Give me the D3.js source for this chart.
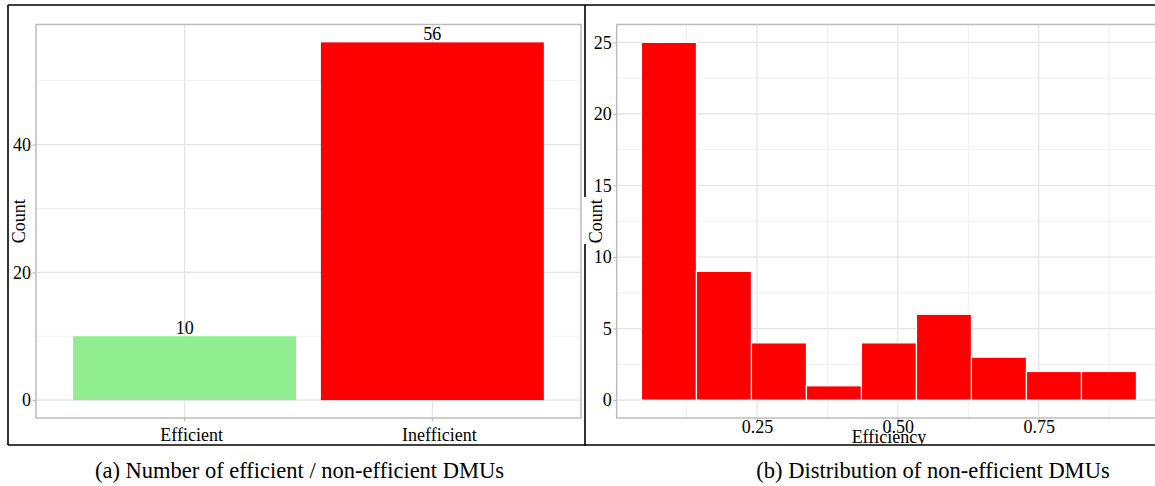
<!DOCTYPE html>
<html>
<head>
<meta charset="utf-8">
<script src="https://cdn.jsdelivr.net/npm/d3@7"></script>
<style>
  body { margin: 0; background: #fff; }
  text { font-family: "Liberation Serif", "Times New Roman", serif; fill: #000; }
</style>
</head>
<body>
<div id="my_dataviz"></div>
<script>

// ---- data ----
var dmuClasses = ["Efficient", "Inefficient"];
var dmuCounts = [10, 56];
var dmuColors = ["#90ee90", "#ff0000"];
var countTicks = [0, 20, 40];

var binEdges = [0.045, 0.1426, 0.2402, 0.3378, 0.4354, 0.533, 0.6306, 0.7282, 0.8258, 0.9234];
var binCounts = [25, 9, 4, 1, 4, 6, 3, 2, 2];
var histYTicks = [0, 5, 10, 15, 20, 25];
var histXTicks = [0.25, 0.50, 0.75];

var captions = ["(a) Number of efficient / non-efficient DMUs", "(b) Distribution of non-efficient DMUs"];

var W = 1155, H = 486;
var gridMajor = "#e4e4e4", gridMinor = "#f1f1f1", borderCol = "#bdbdbd";

var svg = d3.select("#my_dataviz")
  .append("svg")
    .attr("width", W)
    .attr("height", H);

// helper: one ggplot-ish light panel
function drawGrid(g, x, y, xMajor, xMinor, yMajor, yMinor) {
  var x0 = x.range()[0], x1 = x.range()[1] || x.range()[0];
  g.selectAll(".ymin").data(yMinor).enter().append("line")
    .attr("x1", x.range()[0]).attr("x2", x.range()[1])
    .attr("y1", d => y(d)).attr("y2", d => y(d))
    .style("stroke", gridMinor).style("stroke-width", 1);
  g.selectAll(".xmin").data(xMinor).enter().append("line")
    .attr("y1", y.range()[0]).attr("y2", y.range()[1])
    .attr("x1", d => d).attr("x2", d => d)
    .style("stroke", gridMinor).style("stroke-width", 1);
  g.selectAll(".ymaj").data(yMajor).enter().append("line")
    .attr("x1", x.range()[0]).attr("x2", x.range()[1])
    .attr("y1", d => y(d)).attr("y2", d => y(d))
    .style("stroke", gridMajor).style("stroke-width", 1.2);
  g.selectAll(".xmaj").data(xMajor).enter().append("line")
    .attr("y1", y.range()[0]).attr("y2", y.range()[1])
    .attr("x1", d => d).attr("x2", d => d)
    .style("stroke", gridMajor).style("stroke-width", 1.2);
}

function styleYAxis(sel) {
  sel.select(".domain").remove();
  sel.selectAll(".tick line").style("stroke", borderCol).style("stroke-width", 1.2);
  sel.selectAll(".tick text").style("font-size", "18px").style("font-family", "Liberation Serif").attr("fill", "#000");
}

// ================= (a) bar chart =================
function plotBar() {
  var left = 36, right = 581, top = 24.5, bottom = 418;
  var g = svg.append("g");

  var x = d3.scaleBand()
    .domain(dmuClasses)
    .range([left, right])
    .paddingInner(0.1)
    .paddingOuter(0.15);

  var ymax = d3.max(dmuCounts);
  var y = d3.scaleLinear()
    .domain([-0.05 * ymax, ymax * 1.05])
    .range([bottom, top]);

  var centers = dmuClasses.map(d => x(d) + x.bandwidth() / 2);
  drawGrid(g, x, y, centers, [], countTicks, [10, 30, 50]);

  // bars
  g.selectAll(".bar")
    .data(dmuCounts)
    .enter()
    .append("rect")
      .attr("x", (d, i) => x(dmuClasses[i]))
      .attr("width", x.bandwidth())
      .attr("y", d => y(d))
      .attr("height", d => y(0) - y(d))
      .style("fill", (d, i) => dmuColors[i]);

  // value labels
  g.selectAll(".lab")
    .data(dmuCounts)
    .enter()
    .append("text")
      .attr("x", (d, i) => x(dmuClasses[i]) + x.bandwidth() / 2)
      .attr("y", d => y(d) - 2)
      .style("text-anchor", "middle")
      .style("font-size", "18px")
      .text(d => d);

  // panel border
  g.append("rect")
    .attr("x", left).attr("y", top)
    .attr("width", right - left).attr("height", bottom - top)
    .style("fill", "none").style("stroke", borderCol).style("stroke-width", 1.5);

  // axes
  var ya = g.append("g")
    .attr("transform", "translate(" + left + ",0)")
    .call(d3.axisLeft(y).tickValues(countTicks).tickSize(3.5).tickPadding(1.5));
  styleYAxis(ya);

  var xa = g.append("g")
    .attr("transform", "translate(0," + bottom + ")")
    .call(d3.axisBottom(x).tickSize(3.5).tickPadding(3));
  xa.select(".domain").remove();
  xa.selectAll(".tick line").style("stroke", borderCol).style("stroke-width", 1.2);
  xa.selectAll(".tick text").style("font-size", "18px").style("font-family", "Liberation Serif")
    .attr("fill", "#000").attr("dx", 7).attr("dy", "0.9em");

  // y title
  g.append("text")
    .attr("transform", "translate(" + 25 + "," + (top + bottom) / 2 + ") rotate(-90)")
    .style("text-anchor", "middle")
    .style("font-size", "18px")
    .text("Count");
}

// ================= (b) histogram =================
function plotHist() {
  var left = 616.7, right = 1161.2, top = 24.5, bottom = 418;
  var g = svg.append("g");

  var span = binEdges[binEdges.length - 1] - binEdges[0];
  var x = d3.scaleLinear()
    .domain([binEdges[0] - 0.05 * span, binEdges[binEdges.length - 1] + 0.05 * span])
    .range([left, right]);

  var ymax = d3.max(binCounts);
  var y = d3.scaleLinear()
    .domain([-0.05 * ymax, ymax * 1.05])
    .range([bottom, top]);

  drawGrid(g, x, y,
    histXTicks.map(d => x(d)),
    [0.125, 0.375, 0.625, 0.875].map(d => x(d)),
    histYTicks, [2.5, 7.5, 12.5, 17.5, 22.5]);

  // bins
  g.selectAll(".bin")
    .data(binCounts)
    .enter()
    .append("rect")
      .attr("x", (d, i) => x(binEdges[i]))
      .attr("width", (d, i) => x(binEdges[i + 1]) - x(binEdges[i]))
      .attr("y", d => y(d))
      .attr("height", d => y(0) - y(d))
      .style("fill", "#ff0000")
      .style("stroke", "#ffffff")
      .style("stroke-width", 1.2);

  g.append("rect")
    .attr("x", left).attr("y", top)
    .attr("width", right - left).attr("height", bottom - top)
    .style("fill", "none").style("stroke", borderCol).style("stroke-width", 1.5);

  var ya = g.append("g")
    .attr("transform", "translate(" + left + ",0)")
    .call(d3.axisLeft(y).tickValues(histYTicks).tickSize(3.5).tickPadding(1.5));
  styleYAxis(ya);

  var xa = g.append("g")
    .attr("transform", "translate(0," + bottom + ")")
    .call(d3.axisBottom(x).tickValues(histXTicks).tickFormat(d3.format(".2f")).tickSize(3.5).tickPadding(3));
  xa.select(".domain").remove();
  xa.selectAll(".tick line").style("stroke", borderCol).style("stroke-width", 1.2);
  xa.selectAll(".tick text").style("font-size", "18px").style("font-family", "Liberation Serif")
    .attr("fill", "#000").attr("dy", "0.45em");

  g.append("text")
    .attr("x", (left + right) / 2)
    .attr("y", 443)
    .style("text-anchor", "middle")
    .style("font-size", "18px")
    .text("Efficiency");

  g.append("text")
    .attr("transform", "translate(" + 602 + "," + (top + bottom) / 2 + ") rotate(-90)")
    .style("text-anchor", "middle")
    .style("font-size", "18px")
    .text("Count");
}

plotBar();
plotHist();

// white strip under the figure (crop of the original picture)
svg.append("rect").attr("x", 0).attr("y", 445).attr("width", W).attr("height", H - 445).style("fill", "#fff");

// black frame around the two sub-figures
var frame = svg.append("g").style("stroke", "#000").style("stroke-width", 1.6);
frame.append("line").attr("x1", 8).attr("x2", W).attr("y1", 5).attr("y2", 5);
frame.append("line").attr("x1", 8).attr("x2", W).attr("y1", 445).attr("y2", 445);
frame.append("line").attr("x1", 8).attr("x2", 8).attr("y1", 5).attr("y2", 445);
frame.append("line").attr("x1", 585).attr("x2", 585).attr("y1", 5).attr("y2", 197);
frame.append("line").attr("x1", 585).attr("x2", 585).attr("y1", 244).attr("y2", 446);

// captions
svg.selectAll(".caption")
  .data(captions)
  .enter()
  .append("text")
    .attr("x", (d, i) => [299.5, 933][i])
    .attr("y", 478)
    .style("text-anchor", "middle")
    .style("font-size", "22.5px")
    .text(d => d);

</script>
</body>
</html>
